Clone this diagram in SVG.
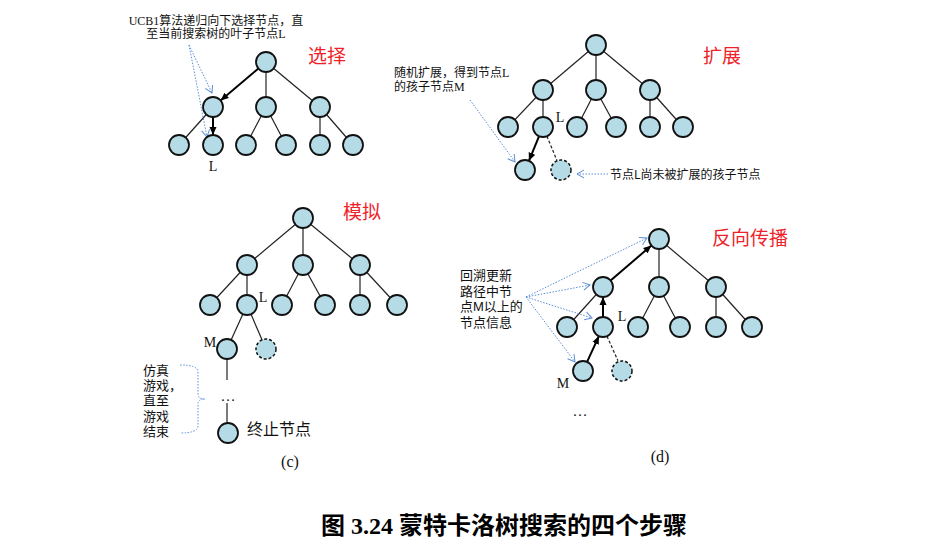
<svg xmlns="http://www.w3.org/2000/svg" width="940" height="554" viewBox="0 0 940 554">
<style>
.n{fill:#b4dbe6;stroke:#111;stroke-width:1.8}
.nd{fill:#b4dbe6;stroke:#111;stroke-width:1.5;stroke-dasharray:3 2}
.e{stroke:#222;stroke-width:1.2;fill:none}
.b{stroke:#000;stroke-width:2;fill:none;marker-end:url(#ab)}
.dl{stroke:#222;stroke-width:1.2;stroke-dasharray:3 2;fill:none}
.bl{stroke:#5b8fd6;stroke-width:1;stroke-dasharray:1.5 1.5;fill:none;marker-end:url(#abl)}
.t{font-family:"Noto Sans CJK SC","Liberation Sans",sans-serif;fill:#111}
.tl{font-family:"Liberation Sans","Noto Sans CJK SC",sans-serif;fill:#111;font-size:13px}
.s{font-family:"Liberation Serif","Noto Sans CJK SC",serif;fill:#111}
.r{font-family:"Noto Sans CJK SC","Liberation Sans",sans-serif;fill:#ee2228;font-size:19px}
</style>
<defs>
<marker id="ab" markerUnits="userSpaceOnUse" markerWidth="9" markerHeight="8" refX="8" refY="4" orient="auto"><path d="M0,0.5 L8,4 L0,7.5 z" fill="#000"/></marker>
<marker id="abl" markerUnits="userSpaceOnUse" markerWidth="10" markerHeight="10" refX="8" refY="5" orient="auto"><path d="M1,1 L8,5 L1,9" fill="none" stroke="#5b8fd6" stroke-width="1"/></marker>
</defs>
<rect width="940" height="554" fill="#fff"/>

<g id="connectors">
<!-- (a) -->
<line class="e" x1="266" y1="62" x2="266" y2="107"/>
<line class="e" x1="266" y1="62" x2="320" y2="107"/>
<line class="e" x1="213" y1="107" x2="179" y2="145"/>
<line class="e" x1="266" y1="107" x2="246" y2="145"/>
<line class="e" x1="266" y1="107" x2="286" y2="145"/>
<line class="e" x1="320" y1="107" x2="320" y2="145"/>
<line class="e" x1="320" y1="107" x2="353" y2="145"/>
<line class="b" x1="258.4" y1="68.5" x2="220.6" y2="100.5"/>
<line class="b" x1="213" y1="117" x2="213" y2="135"/>
<line class="bl" x1="189" y1="45" x2="212" y2="93"/>
<line class="bl" x1="189" y1="45" x2="207" y2="137"/>
<!-- (b) -->
<line class="e" x1="596" y1="45" x2="543" y2="90"/>
<line class="e" x1="596" y1="45" x2="596" y2="90"/>
<line class="e" x1="596" y1="45" x2="650" y2="90"/>
<line class="e" x1="543" y1="90" x2="508" y2="127"/>
<line class="e" x1="543" y1="90" x2="543" y2="127"/>
<line class="e" x1="596" y1="90" x2="577" y2="127"/>
<line class="e" x1="596" y1="90" x2="616" y2="127"/>
<line class="e" x1="650" y1="90" x2="650" y2="127"/>
<line class="e" x1="650" y1="90" x2="683" y2="127"/>
<line class="b" x1="539.1" y1="136.2" x2="528.9" y2="160.8"/>
<line class="dl" x1="546.9" y1="136.2" x2="557.1" y2="160.8"/>
<line class="bl" x1="470" y1="100" x2="515" y2="162"/>
<line class="bl" x1="608" y1="174" x2="577" y2="174"/>
<!-- (c) -->
<line class="e" x1="303" y1="218" x2="247" y2="265"/>
<line class="e" x1="303" y1="218" x2="303" y2="265"/>
<line class="e" x1="303" y1="218" x2="360" y2="265"/>
<line class="e" x1="247" y1="265" x2="210" y2="305"/>
<line class="e" x1="247" y1="265" x2="247" y2="305"/>
<line class="e" x1="303" y1="265" x2="282" y2="305"/>
<line class="e" x1="303" y1="265" x2="325" y2="305"/>
<line class="e" x1="360" y1="265" x2="360" y2="305"/>
<line class="e" x1="360" y1="265" x2="397" y2="305"/>
<line class="e" x1="247" y1="305" x2="227" y2="349"/>
<line class="e" x1="247" y1="305" x2="266" y2="349"/>
<line class="e" x1="227" y1="349" x2="227" y2="380"/>
<line class="e" x1="227" y1="403" x2="227" y2="433"/>
<path class="bl" style="marker-end:none" d="M180,365 Q198,365 198,372 L198,394 Q198,399 205,399 Q198,399 198,404 L198,426 Q198,433 180,433"/>
<!-- (d) -->
<line class="e" x1="659" y1="239" x2="659" y2="287"/>
<line class="e" x1="659" y1="239" x2="716" y2="287"/>
<line class="e" x1="603" y1="287" x2="567" y2="327"/>
<line class="e" x1="659" y1="287" x2="638" y2="327"/>
<line class="e" x1="659" y1="287" x2="680" y2="327"/>
<line class="e" x1="716" y1="287" x2="716" y2="327"/>
<line class="e" x1="716" y1="287" x2="752" y2="327"/>
<line class="b" x1="587.1" y1="361.9" x2="598.9" y2="336.1"/>
<line class="b" x1="603" y1="317" x2="603" y2="297"/>
<line class="b" x1="610.6" y1="280.5" x2="651.4" y2="245.5"/>
<line class="dl" x1="607" y1="336.2" x2="618" y2="360.8"/>
<line class="bl" x1="526" y1="297" x2="647" y2="238"/>
<line class="bl" x1="526" y1="297" x2="590" y2="285"/>
<line class="bl" x1="526" y1="297" x2="592" y2="318"/>
<line class="bl" x1="526" y1="297" x2="575" y2="362"/>
</g>

<g id="a-nodes">
<circle id="a-root" class="n" cx="266" cy="62" r="10"/>
<circle id="a-n1" class="n" cx="213" cy="107" r="10"/>
<circle id="a-n2" class="n" cx="266" cy="107" r="10"/>
<circle id="a-n3" class="n" cx="320" cy="107" r="10"/>
<circle id="a-n4" class="n" cx="179" cy="145" r="10"/>
<circle id="a-L" class="n" cx="213" cy="145" r="10"/>
<circle id="a-n6" class="n" cx="246" cy="145" r="10"/>
<circle id="a-n7" class="n" cx="286" cy="145" r="10"/>
<circle id="a-n8" class="n" cx="320" cy="145" r="10"/>
<circle id="a-n9" class="n" cx="353" cy="145" r="10"/>
</g>
<g id="b-nodes">
<circle id="b-root" class="n" cx="596" cy="45" r="10"/>
<circle id="b-n1" class="n" cx="543" cy="90" r="10"/>
<circle id="b-n2" class="n" cx="596" cy="90" r="10"/>
<circle id="b-n3" class="n" cx="650" cy="90" r="10"/>
<circle id="b-n4" class="n" cx="508" cy="127" r="10"/>
<circle id="b-L" class="n" cx="543" cy="127" r="10"/>
<circle id="b-n6" class="n" cx="577" cy="127" r="10"/>
<circle id="b-n7" class="n" cx="616" cy="127" r="10"/>
<circle id="b-n8" class="n" cx="650" cy="127" r="10"/>
<circle id="b-n9" class="n" cx="683" cy="127" r="10"/>
<circle id="b-M" class="n" cx="525" cy="170" r="10"/>
<circle id="b-u" class="nd" cx="561" cy="170" r="10"/>
</g>
<g id="c-nodes">
<circle id="c-root" class="n" cx="303" cy="218" r="10"/>
<circle id="c-n1" class="n" cx="247" cy="265" r="10"/>
<circle id="c-n2" class="n" cx="303" cy="265" r="10"/>
<circle id="c-n3" class="n" cx="360" cy="265" r="10"/>
<circle id="c-n4" class="n" cx="210" cy="305" r="10"/>
<circle id="c-L" class="n" cx="247" cy="305" r="10"/>
<circle id="c-n6" class="n" cx="282" cy="305" r="10"/>
<circle id="c-n7" class="n" cx="325" cy="305" r="10"/>
<circle id="c-n8" class="n" cx="360" cy="305" r="10"/>
<circle id="c-n9" class="n" cx="397" cy="305" r="10"/>
<circle id="c-M" class="n" cx="227" cy="349" r="10"/>
<circle id="c-u" class="nd" cx="266" cy="349" r="10"/>
<circle id="c-end" class="n" cx="228" cy="433" r="10"/>
</g>
<g id="d-nodes">
<circle id="d-root" class="n" cx="659" cy="239" r="10"/>
<circle id="d-n1" class="n" cx="603" cy="287" r="10"/>
<circle id="d-n2" class="n" cx="659" cy="287" r="10"/>
<circle id="d-n3" class="n" cx="716" cy="287" r="10"/>
<circle id="d-n4" class="n" cx="567" cy="327" r="10"/>
<circle id="d-L" class="n" cx="603" cy="327" r="10"/>
<circle id="d-n6" class="n" cx="638" cy="327" r="10"/>
<circle id="d-n7" class="n" cx="680" cy="327" r="10"/>
<circle id="d-n8" class="n" cx="716" cy="327" r="10"/>
<circle id="d-n9" class="n" cx="752" cy="327" r="10"/>
<circle id="d-M" class="n" cx="583" cy="371" r="10"/>
<circle id="d-u" class="nd" cx="622" cy="371" r="10"/>
</g>

<g id="labels">
<text class="s" x="216" y="25" font-size="12" text-anchor="middle">UCB1算法递归向下选择节点，直</text>
<text class="s" x="216" y="38" font-size="12" text-anchor="middle">至当前搜索树的叶子节点L</text>
<text class="r" x="308" y="63">选择</text>
<text class="s" x="213" y="171" font-size="14" text-anchor="middle">L</text>

<text class="s" x="394" y="77" font-size="12">随机扩展，得到节点L</text>
<text class="s" x="394" y="91" font-size="12">的孩子节点M</text>
<text class="r" x="703" y="63">扩展</text>
<text class="s" x="560" y="122" font-size="14" text-anchor="middle">L</text>
<text class="t" x="610" y="179" font-size="12">节点L尚未被扩展的孩子节点</text>

<text class="r" x="343" y="219">模拟</text>
<text class="s" x="263" y="302" font-size="14" text-anchor="middle">L</text>
<text class="s" x="210" y="347" font-size="14" text-anchor="middle">M</text>
<text class="s" x="228" y="401" font-size="15" text-anchor="middle">…</text>
<text class="t" x="247" y="435" font-size="16">终止节点</text>
<text class="tl" x="143" y="375">仿真</text>
<text class="tl" x="143" y="390">游戏，</text>
<text class="tl" x="143" y="405">直至</text>
<text class="tl" x="143" y="421">游戏</text>
<text class="tl" x="143" y="436">结束</text>
<text class="s" x="290" y="467" font-size="16" text-anchor="middle">(c)</text>

<text class="r" x="712" y="245">反向传播</text>
<text class="tl" x="460" y="280">回溯更新</text>
<text class="tl" x="460" y="296">路径中节</text>
<text class="tl" x="460" y="311">点M以上的</text>
<text class="tl" x="460" y="327">节点信息</text>
<text class="s" x="622" y="321" font-size="14" text-anchor="middle">L</text>
<text class="s" x="563" y="388" font-size="14" text-anchor="middle">M</text>
<text class="s" x="580" y="416" font-size="15" text-anchor="middle">…</text>
<text class="s" x="660" y="462" font-size="16" text-anchor="middle">(d)</text>

<text x="504" y="534" font-size="24" font-weight="bold" text-anchor="middle" font-family="'Liberation Serif','Noto Sans CJK SC',serif" fill="#000">图 3.24 蒙特卡洛树搜索的四个步骤</text>
</g>
</svg>
